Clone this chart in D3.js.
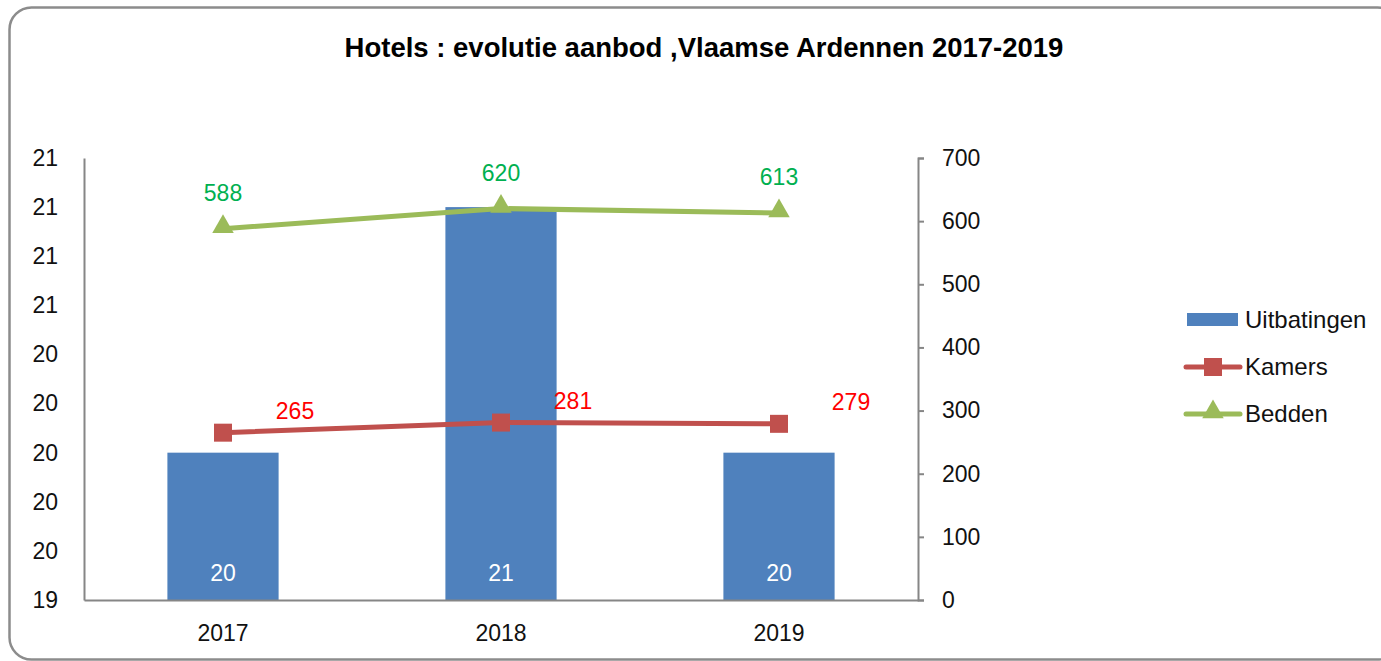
<!DOCTYPE html>
<html><head><meta charset="utf-8">
<script src="https://cdn.jsdelivr.net/npm/d3@7"></script>
<style>body{margin:0;background:#fff}svg{display:block}text{font-family:"Liberation Sans",Arial,sans-serif}</style>
</head><body><svg id="c" width="1381" height="661"></svg>
<script>
const categories = ["2017", "2018", "2019"];
const uitbatingen = [20, 21, 20];
const kamers = [265, 281, 279];
const bedden = [588, 620, 613];
const leftTicks = [19.4, 19.6, 19.8, 20.0, 20.2, 20.4, 20.6, 20.8, 21.0, 21.2];
const rightTicks = [0, 100, 200, 300, 400, 500, 600, 700];
const seriesNames = ["Uitbatingen", "Kamers", "Bedden"];
const title = "Hotels : evolutie aanbod ,Vlaamse Ardennen 2017-2019";

const svg = d3.select("#c");
const C = {bar:"#4F81BD", kam:"#C0504D", bed:"#9BBB59", kamLbl:"#FF0000", bedLbl:"#00B050", axis:"#868686", txt:"#111"};
const m = {l:84, r:918, t:158, b:600};
const FS = 23;

svg.append("rect").attr("x",9.5).attr("y",7.5).attr("width",1390).attr("height",652)
  .attr("rx",22).attr("fill","#fff").attr("stroke","#8c8c8c").attr("stroke-width",2.5);

svg.append("text").attr("x",704).attr("y",57).attr("text-anchor","middle")
  .attr("font-size",27.5).attr("font-weight","bold").attr("fill","#000").text(title);

const x = d3.scaleBand().domain(categories).range([m.l,m.r]).paddingInner(0.6).paddingOuter(0.3);
const yL = d3.scaleLinear().domain([19.4,21.2]).range([m.b,m.t]);
const yR = d3.scaleLinear().domain([0,700]).range([m.b,m.t]);
const cx = d => x(d)+x.bandwidth()/2;

// bars
svg.append("g").selectAll("rect").data(categories).join("rect")
  .attr("x",d=>x(d)).attr("width",x.bandwidth())
  .attr("y",(d,i)=>yL(uitbatingen[i])).attr("height",(d,i)=>yL.range()[0]-yL(uitbatingen[i]))
  .attr("fill",C.bar);
svg.append("g").selectAll("text").data(categories).join("text")
  .attr("x",cx).attr("y",m.b-19).attr("text-anchor","middle").attr("font-size",FS).attr("fill","#fff")
  .text((d,i)=>d3.format(".0f")(uitbatingen[i]));

// axes
const axL = svg.append("g").attr("transform",`translate(${m.l},0)`)
  .call(d3.axisLeft(yL).tickValues(leftTicks).tickFormat(d3.format(".0f")).tickSize(0).tickPadding(26));
const axR = svg.append("g").attr("transform",`translate(${m.r},0)`)
  .call(d3.axisRight(yR).tickValues(rightTicks).tickSize(6).tickSizeOuter(6).tickPadding(18));
const axB = svg.append("g").attr("transform",`translate(0,${m.b})`)
  .call(d3.axisBottom(x).tickSize(0).tickSizeOuter(0).tickPadding(25));
[axL,axR,axB].forEach(a=>{
  a.select(".domain").attr("stroke",C.axis).attr("stroke-width",2);
  a.selectAll(".tick line").attr("stroke",C.axis).attr("stroke-width",2);
  a.selectAll("text").attr("font-size",FS).attr("fill",C.txt).attr("font-family",'"Liberation Sans",Arial,sans-serif');
});

// lines
const lineK = d3.line().x((d,i)=>cx(categories[i])).y(d=>yR(d));
svg.append("path").datum(kamers).attr("d",lineK).attr("fill","none").attr("stroke",C.kam).attr("stroke-width",5);
svg.append("path").datum(bedden).attr("d",lineK).attr("fill","none").attr("stroke",C.bed).attr("stroke-width",5);

const sq = d3.symbol().type(d3.symbolSquare).size(324);
const tri = d3.symbol().type(d3.symbolTriangle).size(200);
svg.append("g").selectAll("path").data(kamers).join("path")
  .attr("d",sq).attr("transform",(d,i)=>`translate(${cx(categories[i])},${yR(d)})`).attr("fill",C.kam);
svg.append("g").selectAll("path").data(bedden).join("path")
  .attr("d",tri).attr("transform",(d,i)=>`translate(${cx(categories[i])},${yR(d)-2})`).attr("fill",C.bed);

svg.append("g").selectAll("text").data(kamers).join("text")
  .attr("x",(d,i)=>cx(categories[i])+72).attr("y",d=>yR(d)-14).attr("text-anchor","middle")
  .attr("font-size",FS).attr("fill",C.kamLbl).text(d=>d);
svg.append("g").selectAll("text").data(bedden).join("text")
  .attr("x",(d,i)=>cx(categories[i])).attr("y",d=>yR(d)-28).attr("text-anchor","middle")
  .attr("font-size",FS).attr("fill",C.bedLbl).text(d=>d);

// legend
const lg = svg.append("g");
const ly = [320, 367, 414];
lg.append("rect").attr("x",1187).attr("y",ly[0]-7).attr("width",51).attr("height",13).attr("fill",C.bar);
lg.append("line").attr("x1",1186).attr("x2",1240).attr("y1",ly[1]).attr("y2",ly[1]).attr("stroke",C.kam).attr("stroke-width",5).attr("stroke-linecap","round");
lg.append("path").attr("d",sq).attr("transform",`translate(1213,${ly[1]})`).attr("fill",C.kam);
lg.append("line").attr("x1",1186).attr("x2",1240).attr("y1",ly[2]).attr("y2",ly[2]).attr("stroke",C.bed).attr("stroke-width",5).attr("stroke-linecap","round");
lg.append("path").attr("d",tri).attr("transform",`translate(1213,${ly[2]-2})`).attr("fill",C.bed);
lg.selectAll("text").data(seriesNames).join("text")
  .attr("x",1245).attr("y",(d,i)=>ly[i]+8).attr("font-size",24).attr("fill",C.txt).text(d=>d);
</script></body></html>
